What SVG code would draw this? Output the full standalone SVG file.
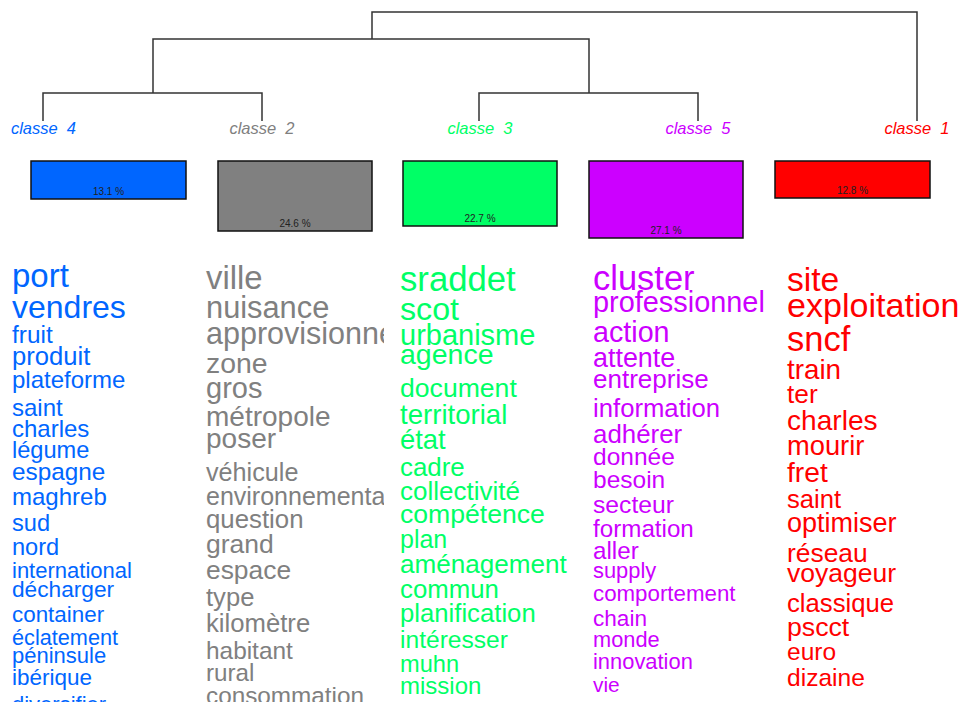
<svg xmlns="http://www.w3.org/2000/svg" width="966" height="702" viewBox="0 0 966 702">
<style>
text{font-family:"Liberation Sans",Arial,sans-serif}
.lab{font-size:16.5px;font-style:italic;text-anchor:middle;white-space:pre}
.pct{font-size:10px;text-anchor:middle;fill:#222}
.bar{stroke:#111;stroke-width:1.5}
.c4{fill:#0066FF}.c2{fill:#808080}.c3{fill:#00FF66}.c5{fill:#CC00FF}.c1{fill:#FF0000}
.edge{fill:none;stroke:#333;stroke-width:1.5}
</style>
<defs>
<clipPath id="clip2"><rect x="195" y="250" width="189" height="460"/></clipPath>
</defs>
<rect width="966" height="702" fill="#fff"/>
<g id="connectors">
<path class="edge" d="M43,121 V93 H262 V121"/>
<path class="edge" d="M153,93 V39 H589 V93"/>
<path class="edge" d="M479,121 V93 H698 V121"/>
<path class="edge" d="M372,39 V12 H917 V121"/>
</g>
<g id="classe4">
<text class="lab c4" x="43.5" y="134">classe  4</text>
<rect class="bar c4" x="31" y="161" width="155" height="38"/>
<text class="pct" x="108.5" y="195">13.1 %</text>
<g class="c4">
<text x="12" y="287" font-size="33">port</text>
<text x="12" y="318" font-size="32">vendres</text>
<text x="12" y="343" font-size="24.4">fruit</text>
<text x="12" y="365" font-size="25.6">produit</text>
<text x="12" y="388" font-size="24">plateforme</text>
<text x="12" y="416" font-size="24">saint</text>
<text x="12" y="437" font-size="24">charles</text>
<text x="12" y="458" font-size="23.6">légume</text>
<text x="12" y="480" font-size="24.3">espagne</text>
<text x="12" y="505" font-size="24">maghreb</text>
<text x="12" y="531" font-size="23.6">sud</text>
<text x="12" y="555" font-size="23.6">nord</text>
<text x="12" y="578" font-size="22">international</text>
<text x="12" y="597" font-size="22.7">décharger</text>
<text x="12" y="622" font-size="22.4">container</text>
<text x="12" y="645" font-size="21.7">éclatement</text>
<text x="12" y="663" font-size="22">péninsule</text>
<text x="12" y="685" font-size="22.5">ibérique</text>
<text x="12" y="712" font-size="22">diversifier</text>
</g>
</g>
<g id="classe2">
<text class="lab c2" x="262" y="134">classe  2</text>
<rect class="bar c2" x="218" y="161" width="154" height="70"/>
<text class="pct" x="295" y="227">24.6 %</text>
<g class="c2" clip-path="url(#clip2)">
<text x="206" y="289" font-size="32.9">ville</text>
<text x="206" y="318" font-size="30.8">nuisance</text>
<text x="206" y="344" font-size="30.5">approvisionnement</text>
<text x="206" y="373" font-size="28.4">zone</text>
<text x="206" y="398" font-size="29">gros</text>
<text x="206" y="426" font-size="28">métropole</text>
<text x="206" y="448" font-size="28">poser</text>
<text x="206" y="481" font-size="25.2">véhicule</text>
<text x="206" y="505" font-size="25">environnemental</text>
<text x="206" y="528" font-size="25.8">question</text>
<text x="206" y="553" font-size="26.5">grand</text>
<text x="206" y="579" font-size="26.4">espace</text>
<text x="206" y="606" font-size="25.6">type</text>
<text x="206" y="632" font-size="25.7">kilomètre</text>
<text x="206" y="659" font-size="24.4">habitant</text>
<text x="206" y="681" font-size="24.2">rural</text>
<text x="206" y="704" font-size="24.3">consommation</text>
</g>
</g>
<g id="classe3">
<text class="lab c3" x="480" y="134">classe  3</text>
<rect class="bar c3" x="403" y="161" width="154" height="65"/>
<text class="pct" x="480" y="222">22.7 %</text>
<g class="c3">
<text x="400" y="291" font-size="34.7">sraddet</text>
<text x="400" y="320" font-size="32.2">scot</text>
<text x="400" y="345" font-size="29">urbanisme</text>
<text x="400" y="364" font-size="28.5">agence</text>
<text x="400" y="397" font-size="26.6">document</text>
<text x="400" y="424" font-size="27.6">territorial</text>
<text x="400" y="449" font-size="27.4">état</text>
<text x="400" y="476" font-size="25.9">cadre</text>
<text x="400" y="500" font-size="26">collectivité</text>
<text x="400" y="523" font-size="26.6">compétence</text>
<text x="400" y="548" font-size="25">plan</text>
<text x="400" y="573" font-size="26.1">aménagement</text>
<text x="400" y="598" font-size="25.8">commun</text>
<text x="400" y="622" font-size="25.7">planification</text>
<text x="400" y="648" font-size="24.6">intéresser</text>
<text x="400" y="672" font-size="23.6">muhn</text>
<text x="400" y="694" font-size="24">mission</text>
</g>
</g>
<g id="classe5">
<text class="lab c5" x="698" y="134">classe  5</text>
<rect class="bar c5" x="589" y="161" width="154" height="77"/>
<text class="pct" x="666" y="234">27.1 %</text>
<g class="c5">
<text x="593" y="290" font-size="34.5">cluster</text>
<text x="593" y="312" font-size="28.9">professionnel</text>
<text x="593" y="342" font-size="28.7">action</text>
<text x="593" y="367" font-size="26.9">attente</text>
<text x="593" y="388" font-size="26">entreprise</text>
<text x="593" y="417" font-size="25.7">information</text>
<text x="593" y="443" font-size="25.9">adhérer</text>
<text x="593" y="465" font-size="24.5">donnée</text>
<text x="593" y="488" font-size="24.5">besoin</text>
<text x="593" y="513" font-size="24.7">secteur</text>
<text x="593" y="537" font-size="24.2">formation</text>
<text x="593" y="559" font-size="24.2">aller</text>
<text x="593" y="578" font-size="21.9">supply</text>
<text x="593" y="601" font-size="22.3">comportement</text>
<text x="593" y="626" font-size="22.6">chain</text>
<text x="593" y="647" font-size="21.8">monde</text>
<text x="593" y="669" font-size="21.9">innovation</text>
<text x="593" y="692" font-size="20.9">vie</text>
</g>
</g>
<g id="classe1">
<text class="lab c1" x="917" y="134">classe  1</text>
<rect class="bar c1" x="775" y="161" width="155" height="37"/>
<text class="pct" x="852.5" y="194">12.8 %</text>
<g class="c1">
<text x="787" y="291" font-size="33.6">site</text>
<text x="787" y="317" font-size="34.1">exploitation</text>
<text x="787" y="351" font-size="34.5">sncf</text>
<text x="787" y="379" font-size="27.8">train</text>
<text x="787" y="403" font-size="26.3">ter</text>
<text x="787" y="430" font-size="28.1">charles</text>
<text x="787" y="455" font-size="27.3">mourir</text>
<text x="787" y="482" font-size="28.2">fret</text>
<text x="787" y="508" font-size="25.6">saint</text>
<text x="787" y="532" font-size="27">optimiser</text>
<text x="787" y="562" font-size="26.4">réseau</text>
<text x="787" y="582" font-size="26.5">voyageur</text>
<text x="787" y="612" font-size="25.7">classique</text>
<text x="787" y="636" font-size="26.7">pscct</text>
<text x="787" y="660" font-size="24.5">euro</text>
<text x="787" y="686" font-size="24.6">dizaine</text>
</g>
</g>
</svg>
